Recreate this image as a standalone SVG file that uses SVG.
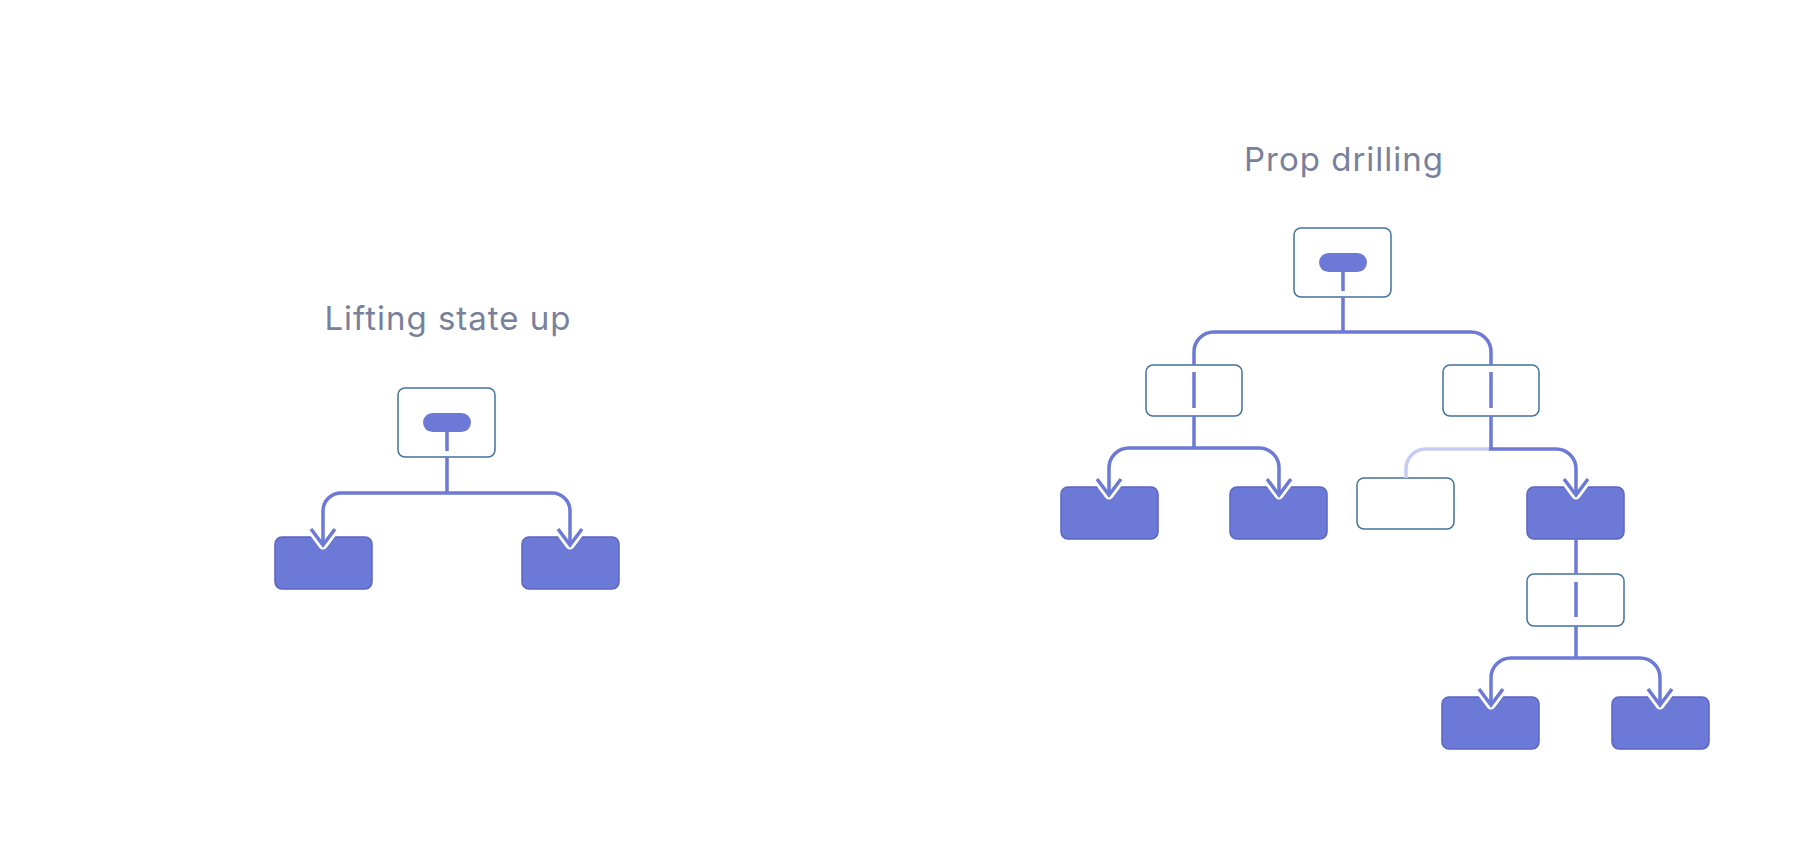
<svg xmlns="http://www.w3.org/2000/svg" xmlns:xlink="http://www.w3.org/1999/xlink" width="1796" height="858" viewBox="0 0 1796 858">
<style>
.title{font-family:Inter,"Noto Sans","Liberation Sans",sans-serif;font-size:33px;letter-spacing:1px;fill:#78819b;text-anchor:middle}
.wbox{fill:#ffffff;stroke:#43729c;stroke-width:1.5}
.fbox{fill:#6c79d6;stroke:#5a66c4;stroke-width:1.5}
.pill{fill:#6c79d6}
.ln{fill:none;stroke:#6c79d6;stroke-width:3.5}
.light{fill:none;stroke:#c6cbf2;stroke-width:3.5}
.halo{fill:none;stroke:#ffffff;stroke-width:9;stroke-linecap:round;stroke-linejoin:round}
.chev{fill:none;stroke:#6c79d6;stroke-width:3.5;stroke-linejoin:miter}
</style>
<defs>
<path id="halo" class="halo" d="M-12,-16 L0,0 L12,-16"/>
<path id="chev" class="chev" d="M-12,-16 L0,0 L12,-16"/>
</defs>
<rect width="1796" height="858" fill="#ffffff"/>

<text class="title" x="448" y="330">Lifting state up</text>
<text class="title" x="1344" y="171">Prop drilling</text>

<!-- Left diagram nodes -->
<g id="l-root">
<rect class="wbox" x="398" y="388" width="97" height="69" rx="7"/>
<rect class="pill" x="423" y="413" width="48" height="19" rx="9.5"/>
<line class="ln" x1="447" y1="430" x2="447" y2="451"/>
</g>
<g id="l-child1"><rect class="fbox" x="275" y="537" width="97" height="52" rx="7"/></g>
<g id="l-child2"><rect class="fbox" x="522" y="537" width="97" height="52" rx="7"/></g>

<!-- Right diagram nodes -->
<g id="r-root">
<rect class="wbox" x="1294" y="228" width="97" height="69" rx="7"/>
<rect class="pill" x="1319" y="253" width="48" height="19" rx="9.5"/>
<line class="ln" x1="1343" y1="270" x2="1343" y2="291"/>
</g>
<g id="r-mid1">
<rect class="wbox" x="1146" y="365" width="96" height="51" rx="7"/>
<line class="ln" x1="1194" y1="372" x2="1194" y2="408"/>
</g>
<g id="r-mid2">
<rect class="wbox" x="1443" y="365" width="96" height="51" rx="7"/>
<line class="ln" x1="1491" y1="372" x2="1491" y2="408"/>
</g>
<g id="r-leaf1"><rect class="fbox" x="1061" y="487" width="97" height="52" rx="7"/></g>
<g id="r-leaf2"><rect class="fbox" x="1230" y="487" width="97" height="52" rx="7"/></g>
<g id="r-empty"><rect class="wbox" x="1357" y="478" width="97" height="51" rx="7"/></g>
<g id="r-user"><rect class="fbox" x="1527" y="487" width="97" height="52" rx="7"/></g>
<g id="r-mid3">
<rect class="wbox" x="1527" y="574" width="97" height="52" rx="7"/>
<line class="ln" x1="1576" y1="582" x2="1576" y2="617"/>
</g>
<g id="r-leaf3"><rect class="fbox" x="1442" y="697" width="97" height="52" rx="7"/></g>
<g id="r-leaf4"><rect class="fbox" x="1612" y="697" width="97" height="52" rx="7"/></g>

<!-- Connectors -->
<g id="connectors">
<g id="halos">
<use xlink:href="#halo" href="#halo" x="323" y="545"/>
<use xlink:href="#halo" href="#halo" x="570" y="545"/>
<use xlink:href="#halo" href="#halo" x="1109" y="495"/>
<use xlink:href="#halo" href="#halo" x="1279" y="495"/>
<use xlink:href="#halo" href="#halo" x="1576" y="495"/>
<use xlink:href="#halo" href="#halo" x="1491" y="705"/>
<use xlink:href="#halo" href="#halo" x="1660" y="705"/>
</g>
<path class="ln" d="M447,457 V493 M447,493 H341 A18,18 0 0 0 323,511 V545 M447,493 H552 A18,18 0 0 1 570,511 V545"/>
<path class="ln" d="M1343,297 V332 M1343,332 H1214 A20,20 0 0 0 1194,352 V365 M1343,332 H1471 A20,20 0 0 1 1491,352 V365"/>
<path class="ln" d="M1194,416 V448 M1194,448 H1129 A20,20 0 0 0 1109,468 V495 M1194,448 H1259 A20,20 0 0 1 1279,468 V495"/>
<path class="light" d="M1491,449 H1426 A20,20 0 0 0 1406,469 V478"/>
<path class="ln" d="M1491,416 V449 M1489,449 H1556 A20,20 0 0 1 1576,469 V495"/>
<path class="ln" d="M1576,539 V574"/>
<path class="ln" d="M1576,626 V658 M1576,658 H1511 A20,20 0 0 0 1491,678 V705 M1576,658 H1640 A20,20 0 0 1 1660,678 V705"/>
<g id="arrowheads">
<use xlink:href="#chev" href="#chev" x="323" y="545"/>
<use xlink:href="#chev" href="#chev" x="570" y="545"/>
<use xlink:href="#chev" href="#chev" x="1109" y="495"/>
<use xlink:href="#chev" href="#chev" x="1279" y="495"/>
<use xlink:href="#chev" href="#chev" x="1576" y="495"/>
<use xlink:href="#chev" href="#chev" x="1491" y="705"/>
<use xlink:href="#chev" href="#chev" x="1660" y="705"/>
</g>
</g>
</svg>
